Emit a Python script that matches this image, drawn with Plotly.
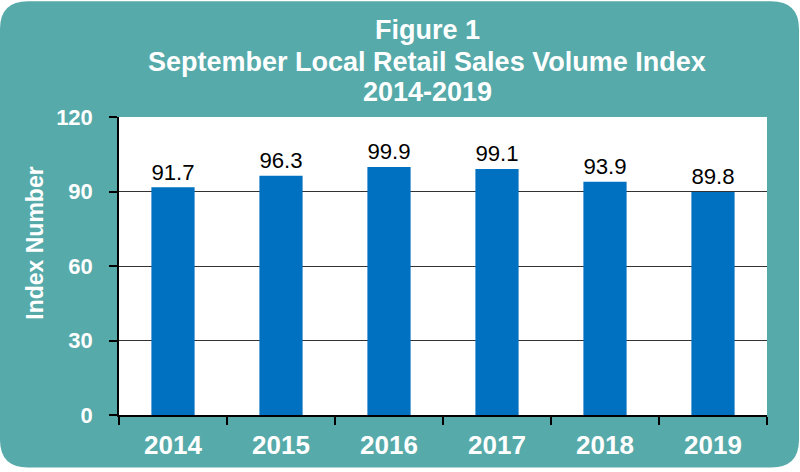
import plotly.graph_objects as go

years = ['2014', '2015', '2016', '2017', '2018', '2019']
index_values = [91.7, 96.3, 99.9, 99.1, 93.9, 89.8]
y_ticks = [0, 30, 60, 90, 120]
title_lines = ['Figure 1', 'September Local Retail Sales Volume Index', '2014-2019']

TEAL = '#56AAAA'
BLUE = '#0070C0'
FONT = 'Liberation Sans, Arial, sans-serif'

# plot area in pixels (800x472 page)
L, R, T, B = 119, 767, 117, 418
W, H = R - L, B - T


def px(x, y):
    return (x - L) / W, (B - y) / H


def rounded_rect(x0, y0, x1, y1, r):
    pts = []
    pts.append('M %f,%f' % px(x0 + r, y0))
    pts.append('L %f,%f' % px(x1 - r, y0))
    pts.append('Q %f,%f %f,%f' % (px(x1, y0) + px(x1, y0 + r)))
    pts.append('L %f,%f' % px(x1, y1 - r))
    pts.append('Q %f,%f %f,%f' % (px(x1, y1) + px(x1 - r, y1)))
    pts.append('L %f,%f' % px(x0 + r, y1))
    pts.append('Q %f,%f %f,%f' % (px(x0, y1) + px(x0, y1 - r)))
    pts.append('L %f,%f' % px(x0, y0 + r))
    pts.append('Q %f,%f %f,%f' % (px(x0, y0) + px(x0 + r, y0)))
    return ' '.join(pts) + ' Z'


fig = go.Figure(go.Bar(
    x=years,
    y=index_values,
    marker=dict(color=BLUE, line=dict(width=0)),
    width=0.4,
    text=['%.1f' % v for v in index_values],
    textposition='outside',
    textfont=dict(family=FONT, size=24, color='black'),
    cliponaxis=False,
))

annotations = []
# title lines, centred at x=427px, each line placed on its own
for line, ymid in zip(title_lines, [29, 61, 92]):
    ax, ay = px(427, ymid)
    annotations.append(dict(
        text=line, xref='paper', yref='paper', x=ax, y=ay,
        xanchor='center', yanchor='middle', showarrow=False,
        font=dict(family=FONT, size=27, color='white', weight='bold'),
    ))

ax, ay = px(35, 245)
annotations.append(dict(
    text='Index Number', xref='paper', yref='paper', x=ax, y=ay,
    xanchor='center', yanchor='middle', showarrow=False, textangle=-90,
    font=dict(family=FONT, size=23, color='white', weight='bold'),
))

fig.update_layout(
    width=800, height=472,
    margin=dict(l=L, r=800 - R, t=T, b=472 - B),
    paper_bgcolor='white',
    plot_bgcolor='white',
    showlegend=False,
    annotations=annotations,
    shapes=[
        dict(type='path', xref='paper', yref='paper', layer='below',
             path=rounded_rect(0, 0, 799, 471, 28),
             fillcolor=TEAL, line=dict(width=0)),
        dict(type='rect', xref='paper', yref='paper', layer='below',
             x0=0, x1=1, y0=0, y1=1,
             fillcolor='white', line=dict(width=0)),
    ],
)

fig.update_xaxes(
    type='category',
    tickson='boundaries',
    ticks='outside', ticklen=8, tickwidth=1.5, tickcolor='black',
    showline=True, linecolor='black', linewidth=1.5,
    showgrid=False,
    tickfont=dict(family=FONT, size=26, color='white', weight='bold'),
    ticklabelstandoff=6,
)

fig.update_yaxes(
    range=[0, 120],
    tickvals=y_ticks,
    ticks='outside', ticklen=8, tickwidth=1.5, tickcolor='black',
    showline=True, linecolor='black', linewidth=1.5,
    showgrid=True, gridcolor='#333333', gridwidth=1,
    zeroline=False,
    tickfont=dict(family=FONT, size=22, color='white', weight='bold'),
    ticklabelstandoff=12,
)

fig.write_html('out.html', config={'displayModeBar': False},
               post_script="document.body.style.margin='0';")
